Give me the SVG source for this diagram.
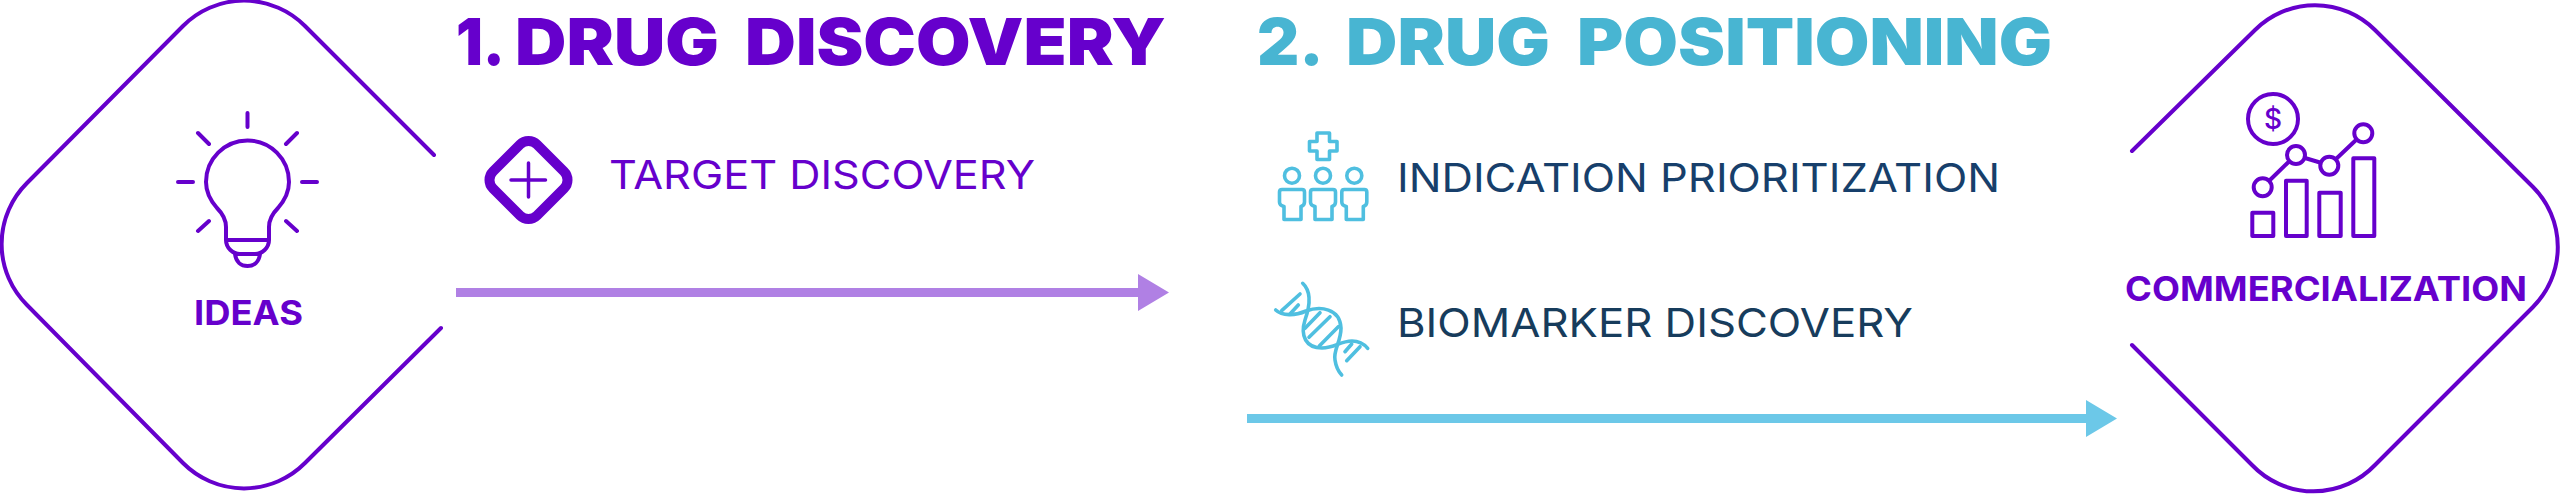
<svg xmlns="http://www.w3.org/2000/svg" width="2560" height="494" viewBox="0 0 2560 494">
<style>
text{font-family:Inter,"Liberation Sans",sans-serif}
.title{font-size:64.6px;font-weight:900}
.hub{font-size:34px;font-weight:700;fill:#6600cc}
.item{font-size:40px;font-weight:400}
.fr{fill:none;stroke:#6600cc;stroke-width:4;stroke-linecap:round;stroke-linejoin:round}
.blue{fill:none;stroke:#4fbfe0;stroke-width:3.6;stroke-linecap:round;stroke-linejoin:round}
</style>
<defs>
<path id="person" class="blue" d="M1282 189.500H1302Q1304.500 189.500 1304.500 192V202Q1304.500 205.500 1301 206.500V219.500H1284V206.500Q1279.500 205.500 1279.500 202V192Q1279.500 189.500 1282 189.500Z"/>
</defs>
<rect width="2560" height="494" fill="#fff"/>
<g id="connectors">
<path d="M456 288H1138V274L1169 292.500L1138 311V297H456Z" fill="#b080e4"/>
<path d="M1247 414H2086V400L2117 418.500L2086 437V423H1247Z" fill="#6cc8e8"/>
</g>
<g id="ideas">
<path class="fr" d="M434 155L305 26A86 86 0 0 0 183 26L27 183A86 86 0 0 0 27 305L183 463A86 86 0 0 0 305 463L441 328"/>
<path class="fr" d="M247.500 113V127M198 133L209 144M297 133L286 144M178 182H193M302 182H317M209 221L198 231M286 221L297 231"/>
<path class="fr" d="M226 227C226 218 221 212 217 208C210 200 206 192 206 182A41.500 41.500 0 0 1 289 182C289 192 285 200 278 208C274 212 269 218 269 227V240C269 248 262 254 255 254H240C233 254 226 248 226 240ZM226 240H269M235 254C236 262 241 266 247.500 266C254 266 259 262 260 254"/>
<text class="hub" x="194" y="325" textLength="109" lengthAdjust="spacingAndGlyphs">IDEAS</text>
</g>
<g id="drug-discovery">
<text class="title" y="65" fill="#6600cc"><tspan x="456" textLength="49" lengthAdjust="spacingAndGlyphs">1.</tspan><tspan x="515" textLength="204" lengthAdjust="spacingAndGlyphs">DRUG</tspan> <tspan x="745" textLength="421" lengthAdjust="spacingAndGlyphs">DISCOVERY</tspan></text>
</g>
<g id="target-discovery">
<rect x="497.400" y="148.900" width="62.200" height="62.200" rx="12" transform="rotate(45 528.500 180)" fill="none" stroke="#6600cc" stroke-width="10"/>
<path d="M511 180H545.500M528.500 163V197" fill="none" stroke="#6600cc" stroke-width="3.500" stroke-linecap="round"/>
<text class="item" x="609" y="189" fill="#6600cc" textLength="426" lengthAdjust="spacingAndGlyphs">TARGET DISCOVERY</text>
</g>
<g id="drug-positioning">
<text class="title" y="65" fill="#48b5d2"><tspan x="1257" textLength="63" lengthAdjust="spacingAndGlyphs">2.</tspan> <tspan x="1346" textLength="204" lengthAdjust="spacingAndGlyphs">DRUG</tspan> <tspan x="1577" textLength="475" lengthAdjust="spacingAndGlyphs">POSITIONING</tspan></text>
</g>
<g id="indication-prioritization">
<path class="blue" d="M1317 133H1329.500V141.500H1337V151H1329.500V159.500H1317V151H1309.500V141.500H1317Z"/>
<circle class="blue" cx="1292" cy="175.700" r="7.500"/><circle class="blue" cx="1323" cy="175.700" r="7.500"/><circle class="blue" cx="1354.300" cy="175.700" r="7.500"/>
<use href="#person"/><use href="#person" x="31"/><use href="#person" x="62.300"/>
<text class="item" x="1397" y="192" fill="#173f6b" textLength="603" lengthAdjust="spacingAndGlyphs">INDICATION PRIORITIZATION</text>
</g>
<g id="biomarker-discovery">
<path class="blue" d="M1302.700 283.300C1312 292 1310 306 1305 320C1300 336 1306 348 1322 348C1335 348 1340 341 1352 341C1359 341 1364 344 1367.700 348.300"/>
<path class="blue" d="M1275.700 310C1282 316 1295 316 1306 311C1320 306 1340 308 1341 328C1341 342 1333 350 1335 360C1336 367 1338 371 1341.700 375"/>
<path class="blue" d="M1300 294L1281.700 310.700M1298.300 305L1290 314M1320 312.700L1305 328.300M1330 316.700L1309 337.300M1338.300 326.700L1319.300 346M1360 346.700L1346.700 360.700M1351.700 344L1345 351.700"/>
<text class="item" x="1397" y="337" fill="#173c5c" textLength="516" lengthAdjust="spacingAndGlyphs">BIOMARKER DISCOVERY</text>
</g>
<g id="commercialization">
<path class="fr" d="M2132 151L2255 30A85 85 0 0 1 2375 30L2533 187A85 85 0 0 1 2533 307L2375 465A85 85 0 0 1 2252 465L2132 345"/>
<circle class="fr" cx="2273" cy="119" r="25"/>
<circle class="fr" cx="2262.700" cy="187.300" r="9"/><circle class="fr" cx="2296" cy="155" r="9"/><circle class="fr" cx="2329.300" cy="165.700" r="9"/><circle class="fr" cx="2363.300" cy="133.300" r="9"/>
<path class="fr" d="M2270 180L2288.300 162.300M2305 158L2320 162.500M2336 159L2356 140M2252.300 212.700H2273.300V236H2252.300ZM2286 180.700H2306.700V236H2286ZM2319.300 192.700H2340.700V236H2319.300ZM2353.300 158.300H2374.300V236H2353.300Z"/>
<text x="2273" y="129" font-size="28" font-weight="500" fill="#6600cc" text-anchor="middle">$</text>
<text class="hub" x="2125" y="301" textLength="402" lengthAdjust="spacingAndGlyphs">COMMERCIALIZATION</text>
</g>
</svg>
